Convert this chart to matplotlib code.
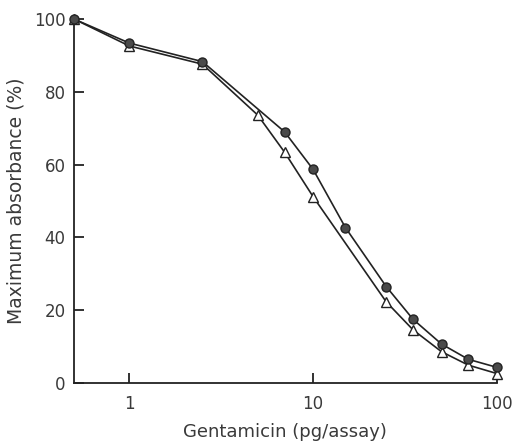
import numpy as np
import matplotlib.pyplot as plt
from matplotlib.ticker import FixedLocator, NullLocator

# Gentamicin dose (pg/assay)
circle_x = [0.5, 1, 2.5, 7, 10, 15, 25, 35, 50, 70, 100]
circle_y = [100, 93.4, 88.3, 69.0, 58.7, 42.7, 26.5, 17.5, 10.7, 6.5, 4.3]

tri_x = [0.5, 1, 2.5, 5, 7, 10, 25, 35, 50, 70, 100]
tri_y = [100, 92.6, 87.6, 73.6, 63.4, 51.2, 22.3, 14.6, 8.6, 4.9, 2.6]

x_ticks = [1, 10, 100]
x_tick_labels = ['1', '10', '100']
y_ticks = [0, 20, 40, 60, 80, 100]

text_color = '#3a3a3a'
plt.rcParams['font.family'] = ['DejaVu Sans']

fig = plt.figure(figsize=(5.15, 4.46), dpi=100)
ax = fig.add_axes([0.1437, 0.1413, 0.821, 0.816])

ax.plot(tri_x, tri_y, color='#222222', lw=1.2, marker='^', ms=7,
        mfc='white', mec='#222222', mew=1.0, clip_on=False, zorder=3)
ax.plot(circle_x, circle_y, color='#222222', lw=1.2, marker='o', ms=6.5,
        mfc='#4a4a4a', mec='#222222', mew=1.0, clip_on=False, zorder=4)

ax.set_xscale('log')
ax.set_xlim(0.5, 100)
ax.set_ylim(0, 100)

ax.xaxis.set_major_locator(FixedLocator(x_ticks))
ax.xaxis.set_minor_locator(NullLocator())
ax.set_xticklabels(x_tick_labels)
ax.set_yticks(y_ticks)

for side in ['top', 'right']:
    ax.spines[side].set_visible(False)
for side in ['left', 'bottom']:
    ax.spines[side].set_linewidth(1.3)
    ax.spines[side].set_color('#222222')

ax.tick_params(direction='in', length=7, width=1.3, color='#222222',
               labelsize=12, labelcolor=text_color)
ax.tick_params(axis='x', pad=9)
ax.tick_params(axis='y', pad=6)

ax.set_xlabel('Gentamicin (pg/assay)', fontsize=13, color=text_color, labelpad=7)
ax.set_ylabel('Maximum absorbance (%)', fontsize=13.5, color=text_color, labelpad=6)

fig.savefig('out.png', dpi=100)
